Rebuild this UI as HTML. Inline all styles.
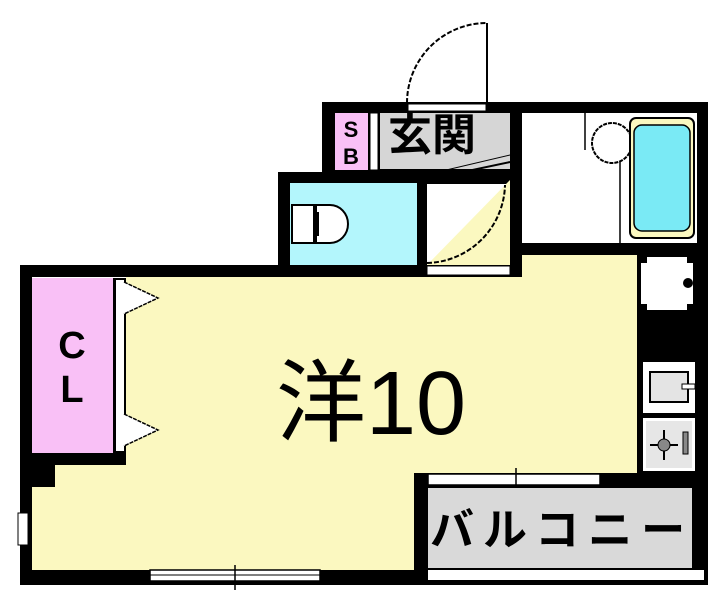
<!DOCTYPE html>
<html><head><meta charset="utf-8"><style>
html,body{margin:0;padding:0;background:#fff}
svg{display:block}
text{font-family:"Liberation Sans","Noto Sans CJK JP",sans-serif}
</style></head><body>
<svg width="720" height="606" viewBox="0 0 720 606" xmlns="http://www.w3.org/2000/svg">
<!-- entry door -->
<path d="M407 103 A80 80 0 0 1 487 23 L487 103" fill="none" stroke="#000" stroke-width="2" stroke-dasharray="5 2"/>
<line x1="487" y1="23" x2="487" y2="103" stroke="#000" stroke-width="2"/>

<!-- black mass -->
<rect x="322" y="102" width="386" height="71" fill="#000"/>
<rect x="278" y="172" width="244" height="105" fill="#000"/>
<rect x="510" y="102" width="198" height="155" fill="#000"/>
<rect x="20" y="265" width="270" height="12" fill="#000"/>
<rect x="637" y="243" width="71" height="342" fill="#000"/>
<rect x="20" y="265" width="12" height="320" fill="#000"/>
<rect x="20" y="570" width="688" height="15" fill="#000"/>
<rect x="414" y="473" width="294" height="112" fill="#000"/>

<!-- door opening white strip -->
<rect x="408" y="104" width="78" height="7" fill="#fff" stroke="#000" stroke-width="1"/>

<!-- entrance -->
<rect x="335" y="113" width="33" height="57" fill="#f9c0f6"/>
<rect x="370" y="113" width="8" height="57" fill="#fff" stroke="#000" stroke-width="1"/>
<rect x="380" y="113" width="130" height="56" fill="#d6d6d6"/>
<text x="351" y="137" font-size="22" font-weight="bold" text-anchor="middle">S</text>
<text x="351" y="164" font-size="22" font-weight="bold" text-anchor="middle">B</text>
<text x="388" y="150" font-size="44" font-weight="bold">玄関</text>

<!-- toilet -->
<rect x="290" y="183" width="127" height="82" fill="#b3f6fc"/>
<rect x="292" y="205" width="22" height="38" fill="#fff" stroke="#000" stroke-width="2"/>
<path d="M316 205 H330 A18 19 0 0 1 330 243 H316 Z" fill="#fff" stroke="#000" stroke-width="2"/>
<line x1="318" y1="212" x2="318" y2="236" stroke="#000" stroke-width="2"/>

<!-- small hall -->
<rect x="427" y="184" width="83" height="81" fill="#fff"/>
<path d="M427 265 L510 180 L510 265 Z" fill="#fbf8c0"/>
<path d="M427 263 A80 80 0 0 0 505 185" fill="none" stroke="#000" stroke-width="2" stroke-dasharray="5 2"/>
<line x1="425" y1="180" x2="510" y2="162" stroke="#000" stroke-width="2"/>
<line x1="425" y1="175" x2="510" y2="155" stroke="#000" stroke-width="1"/>
<rect x="427" y="266" width="83" height="9" fill="#fff" stroke="#000" stroke-width="1"/>

<!-- bath -->
<rect x="522" y="113" width="175" height="130" fill="#fff"/>
<line x1="585" y1="113" x2="585" y2="150" stroke="#000" stroke-width="1.5"/>
<line x1="620" y1="160" x2="620" y2="243" stroke="#000" stroke-width="1.5"/>
<circle cx="612" cy="143" r="20" fill="#fff" stroke="#000" stroke-width="2" stroke-dasharray="4 1"/>
<rect x="630" y="118" width="64" height="120" rx="6" fill="#fbf8c0" stroke="#000" stroke-width="2"/>
<rect x="634" y="125" width="56" height="106" rx="8" fill="#7aeaf5" stroke="#000" stroke-width="1.5"/>

<!-- main room -->
<path d="M32 277 H290 V277 H522 V255 H637 V473 H414 V570 H32 V487 H55 V465 H126 V277 Z" fill="#fbf8c0"/>
<rect x="20" y="265" width="12" height="222" fill="#000"/>
<rect x="20" y="453" width="35" height="34" fill="#000"/>
<rect x="32" y="278" width="81" height="175" fill="#f9c0f6"/>
<rect x="32" y="453" width="94" height="12" fill="#000"/>
<rect x="113" y="278" width="13" height="175" fill="#000"/>
<rect x="116" y="280" width="8" height="171" fill="#fff"/>
<path d="M124 282 L158 298 L124 314" fill="#fff" stroke="#000" stroke-width="1.5" stroke-dasharray="4 1"/>
<path d="M124 414 L158 430 L124 446" fill="#fff" stroke="#000" stroke-width="1.5" stroke-dasharray="4 1"/>
<text x="72" y="358" font-size="38" font-weight="bold" text-anchor="middle">C</text>
<text x="72" y="402" font-size="38" font-weight="bold" text-anchor="middle">L</text>
<text x="276" y="434" font-size="90">洋10</text>
<rect x="18" y="513" width="10" height="32" fill="#fff" stroke="#000" stroke-width="1"/>
<rect x="150" y="570" width="170" height="11" fill="#fff" stroke="#000" stroke-width="1.5"/>
<line x1="150" y1="575" x2="320" y2="575" stroke="#000" stroke-width="1"/>
<line x1="235" y1="565" x2="235" y2="590" stroke="#000" stroke-width="1.5"/>

<!-- kitchen -->
<rect x="641" y="257" width="52" height="53" fill="#fff"/>
<rect x="641" y="257" width="6" height="6" fill="#000"/>
<rect x="687" y="257" width="6" height="6" fill="#000"/>
<rect x="641" y="304" width="6" height="6" fill="#000"/>
<rect x="687" y="304" width="6" height="6" fill="#000"/>
<circle cx="688" cy="283" r="5" fill="#000"/>
<rect x="643" y="362" width="52" height="51" fill="#fff"/>
<rect x="650" y="372" width="38" height="30" fill="#e4e4e4" stroke="#000" stroke-width="2"/>
<rect x="682" y="384" width="13" height="5" fill="#fff" stroke="#000" stroke-width="1"/>
<rect x="643" y="418" width="52" height="53" fill="#fff"/>
<rect x="646" y="421" width="46" height="47" fill="#e6e6e6"/>
<line x1="650" y1="445" x2="678" y2="445" stroke="#000" stroke-width="2"/>
<line x1="664" y1="430" x2="664" y2="460" stroke="#000" stroke-width="2"/>
<circle cx="664" cy="445" r="6" fill="#888" stroke="#000" stroke-width="1"/>
<rect x="683" y="432" width="5" height="22" fill="#888" stroke="#000" stroke-width="1"/>

<!-- balcony -->
<rect x="428" y="474" width="172" height="11" fill="#fff" stroke="#000" stroke-width="1.5"/>
<line x1="516" y1="468" x2="516" y2="492" stroke="#000" stroke-width="1.5"/>
<rect x="428" y="488" width="264" height="80" fill="#d9d9d9"/>
<rect x="428" y="570" width="276" height="10" fill="#fff"/>
<text x="430" y="545" font-size="44" font-weight="bold" letter-spacing="9">バルコニー</text>
</svg>
</body></html>
